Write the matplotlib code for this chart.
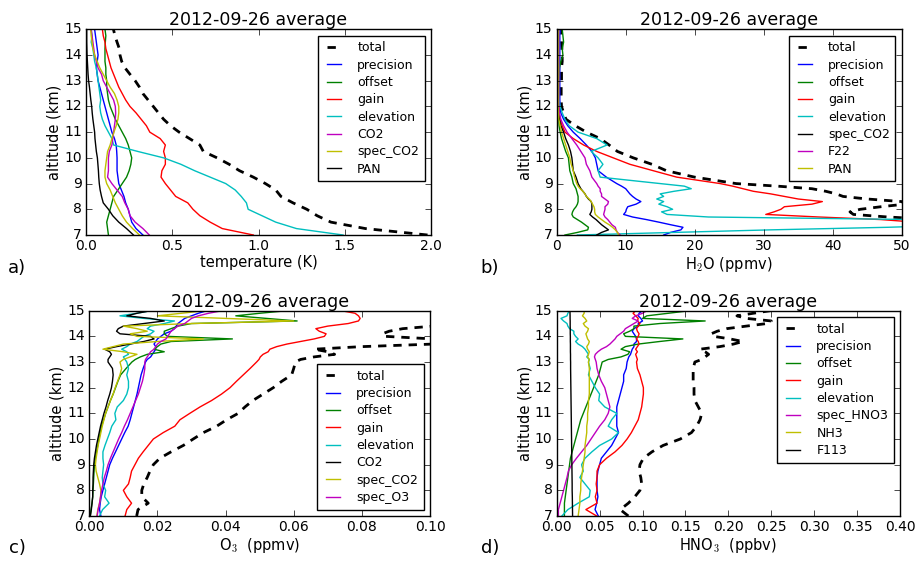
import matplotlib
matplotlib.use("Agg")
import matplotlib.pyplot as plt

plt.style.use("classic")
plt.rcParams["figure.facecolor"] = "white"
plt.rcParams["savefig.facecolor"] = "white"
plt.rcParams["font.family"] = ["DejaVu Sans"]

# ---------------- panel a : temperature (K) ----------------
alt_a = [7.0, 7.25, 7.5, 7.75, 8.0, 8.25, 8.5, 8.75, 9.0, 9.25, 9.5, 9.75, 10.0, 10.25,
         10.5, 10.75, 11.0, 11.25, 11.5, 11.75, 12.0, 12.25, 12.5, 12.75, 13.0, 13.25,
         13.5, 13.75, 14.0, 14.25, 14.5, 14.75, 15.0]
total_a = [1.98, 1.62, 1.42, 1.34, 1.28, 1.20, 1.13, 1.10, 1.04, 0.97, 0.89, 0.83, 0.76, 0.68,
           0.66, 0.60, 0.54, 0.49, 0.45, 0.42, 0.39, 0.36, 0.33, 0.31, 0.285, 0.255, 0.226,
           0.207, 0.197, 0.193, 0.18, 0.168, 0.159]
prec_a = [0.33, 0.29, 0.265, 0.255, 0.245, 0.23, 0.22, 0.205, 0.19, 0.185, 0.18, 0.18, 0.18,
          0.178, 0.175, 0.165, 0.15, 0.14, 0.13, 0.12, 0.11, 0.10, 0.09, 0.08, 0.07, 0.065,
          0.06, 0.065, 0.07, 0.065, 0.06, 0.055, 0.05]
offset_a = [0.13, 0.125, 0.12, 0.13, 0.14, 0.15, 0.16, 0.185, 0.21, 0.235, 0.25, 0.26, 0.265,
            0.255, 0.245, 0.23, 0.21, 0.19, 0.17, 0.155, 0.14, 0.13, 0.125, 0.12, 0.12, 0.115,
            0.115, 0.11, 0.11, 0.11, 0.112, 0.115, 0.11]
gain_a = [0.97, 0.79, 0.72, 0.66, 0.62, 0.59, 0.52, 0.49, 0.46, 0.435, 0.44, 0.46, 0.46, 0.45,
          0.46, 0.43, 0.37, 0.35, 0.32, 0.29, 0.255, 0.23, 0.21, 0.19, 0.175, 0.16, 0.145,
          0.135, 0.125, 0.115, 0.11, 0.10, 0.095]
elev_a = [1.49, 1.22, 1.10, 1.02, 0.94, 0.93, 0.90, 0.865, 0.81, 0.72, 0.63, 0.55, 0.45, 0.30,
          0.16, 0.15, 0.13, 0.11, 0.095, 0.085, 0.08, 0.085, 0.08, 0.075, 0.07, 0.065, 0.06,
          0.05, 0.045, 0.04, 0.03, 0.035, 0.03]
co2_a = [0.367, 0.33, 0.285, 0.255, 0.245, 0.225, 0.21, 0.18, 0.15, 0.125, 0.13, 0.13, 0.13,
         0.135, 0.15, 0.155, 0.16, 0.165, 0.17, 0.172, 0.17, 0.16, 0.14, 0.12, 0.10, 0.09,
         0.07, 0.06, 0.05, 0.045, 0.04, 0.035, 0.03]
specco2_a = [0.31, 0.27, 0.235, 0.21, 0.19, 0.17, 0.155, 0.14, 0.12, 0.11, 0.11, 0.115, 0.12,
             0.125, 0.14, 0.15, 0.162, 0.175, 0.185, 0.19, 0.19, 0.18, 0.165, 0.14, 0.12,
             0.10, 0.08, 0.065, 0.05, 0.04, 0.035, 0.03, 0.027]
pan_a = [0.275, 0.235, 0.19, 0.155, 0.13, 0.10, 0.09, 0.082, 0.077, 0.074, 0.072, 0.069,
         0.066, 0.06, 0.056, 0.052, 0.05, 0.045, 0.04, 0.036, 0.033, 0.028, 0.024, 0.02,
         0.015, 0.012, 0.01, 0.008, 0.006, 0.005, 0.004, 0.004, 0.004]

# ---------------- panel b : H2O (ppmv) ----------------
alt_b = [7.0, 7.1, 7.2, 7.3, 7.4, 7.5, 7.6, 7.7, 7.8, 7.9, 8.0, 8.1, 8.2, 8.3, 8.4, 8.5, 8.6,
         8.7, 8.8, 8.9, 9.0, 9.25, 9.5, 9.75, 10.0, 10.25, 10.5, 10.75, 11.0, 11.25, 11.5,
         11.75, 12.0, 12.25, 12.5, 12.75, 13.0, 13.25, 13.5, 13.75, 14.0, 14.25, 14.5,
         14.75, 15.0]
total_b = [85, 80, 75, 70, 65, 60, 55, 48, 43, 42.5, 44, 47, 50.5, 50, 45, 41.5, 40.5, 39,
           37, 32, 26, 20, 15.9, 13.8, 11.1, 8.8, 7.6, 6.3, 4.3, 2.7, 1.35, 1.0, 0.7, 0.65,
           0.65, 0.65, 0.7, 0.7, 0.7, 0.8, 0.8, 0.75, 0.7, 0.7, 0.7]
prec_b = [15.5, 16.5, 18, 18.3, 16.5, 14.8, 13, 11, 9.7, 10.0, 10.1, 10.3, 11.5, 12.2, 11.5,
          11, 10.6, 10.3, 10, 9.4, 8.7, 7.2, 6.0, 5.8, 5.6, 5.1, 4.3, 3.4, 2.4, 1.6, 1.0,
          0.6, 0.5, 0.45, 0.45, 0.45, 0.45, 0.45, 0.45, 0.45, 0.45, 0.45, 0.45, 0.45, 0.5]
offset_b = [1.2, 3.0, 4.5, 4.6, 4.1, 3.6, 3.0, 2.4, 2.2, 2.3, 2.5, 2.8, 3.0, 3.1, 3.1, 3.1,
            3.0, 2.9, 2.8, 2.6, 2.4, 2.2, 1.9, 1.8, 1.7, 1.3, 1.0, 0.7, 0.5, 0.35, 0.3, 0.3,
            0.25, 0.25, 0.3, 0.3, 0.3, 0.35, 0.4, 0.6, 0.9, 0.8, 1.0, 0.9, 0.8]
gain_b = [72, 68, 64, 60, 56, 52, 47, 38, 30.3, 31.5, 32.5, 33, 37, 38.5, 35, 33, 31, 28.5,
          27, 25.5, 23.7, 17.4, 14.0, 10.6, 8.2, 5.8, 3.9, 2.4, 1.2, 0.8, 0.5, 0.35, 0.3,
          0.25, 0.25, 0.25, 0.25, 0.25, 0.25, 0.25, 0.25, 0.25, 0.25, 0.25, 0.25]
elev_b = [3, 17, 31, 48, 60, 60, 52, 22, 16, 15.2, 16.8, 16, 14.8, 15.5, 14.5, 15.5, 15, 17,
          19.5, 18.5, 15, 6.3, 6.0, 6.7, 6.0, 5.0, 7.3, 5.8, 3.1, 1.8, 1.2, 0.8, 0.5, 0.35,
          0.3, 0.3, 0.3, 0.3, 0.3, 0.3, 0.3, 0.3, 0.3, 0.3, 0.3]
specco2_b = [5.8, 6.5, 7.5, 7.0, 6.5, 6.1, 5.7, 5.2, 4.8, 5.0, 5.1, 5.1, 5.1, 5.0, 4.6, 4.3,
             4.1, 3.8, 3.5, 3.3, 3.1, 2.8, 2.4, 2.3, 2.2, 2.0, 1.7, 1.3, 1.0, 0.6, 0.4, 0.3,
             0.2, 0.2, 0.2, 0.2, 0.2, 0.2, 0.2, 0.2, 0.2, 0.2, 0.2, 0.2, 0.2]
f22_b = [9.2, 8.8, 8.6, 8.5, 8.0, 7.7, 7.4, 7.0, 6.8, 6.9, 7.0, 7.0, 7.4, 7.5, 7.0, 6.5, 6.5,
         6.3, 6.3, 6.0, 5.8, 5.1, 4.8, 4.3, 4.1, 3.5, 2.9, 2.2, 1.5, 1.0, 0.6, 0.4, 0.3, 0.3,
         0.3, 0.3, 0.3, 0.3, 0.3, 0.3, 0.3, 0.3, 0.3, 0.3, 0.3]
pan_b = [9.0, 8.8, 8.5, 8.1, 7.6, 7.0, 6.5, 6.0, 5.6, 5.5, 5.5, 5.4, 5.2, 5.0, 4.7, 4.3, 4.1,
         3.8, 3.4, 3.1, 2.9, 2.6, 2.4, 2.1, 1.9, 1.6, 1.3, 1.0, 0.7, 0.5, 0.3, 0.25, 0.2,
         0.2, 0.2, 0.2, 0.2, 0.2, 0.2, 0.2, 0.2, 0.2, 0.2, 0.2, 0.2]

# ---------------- panels c and d share an altitude grid ----------------
alt_cd = [7.0, 7.25, 7.5, 7.75, 8.0, 8.25, 8.5, 8.75, 9.0, 9.25, 9.5, 9.75, 10.0, 10.25,
          10.5, 10.75, 11.0, 11.25, 11.5, 11.75, 12.0, 12.25, 12.5, 12.75, 13.0, 13.1,
          13.2, 13.3, 13.4, 13.5, 13.6, 13.7, 13.8, 13.9, 14.0, 14.1, 14.2, 14.3, 14.4,
          14.5, 14.6, 14.7, 14.8, 14.9, 15.0]

# panel c : O3 (ppmv)
total_c = [0.0139, 0.0143, 0.0173, 0.0154, 0.0154, 0.0160, 0.0170, 0.0178, 0.0188, 0.0207,
           0.0240, 0.0276, 0.0305, 0.0335, 0.0374, 0.0403, 0.0437, 0.0457, 0.0480, 0.0510,
           0.0540, 0.0565, 0.0594, 0.0600, 0.0605, 0.062, 0.066, 0.072, 0.070, 0.066, 0.080,
           0.101, 0.105, 0.101, 0.087, 0.086, 0.088, 0.092, 0.101, 0.115, 0.125, 0.135,
           0.140, 0.140, 0.140]
prec_c = [0.0034, 0.0030, 0.0032, 0.0035, 0.0040, 0.0045, 0.0050, 0.0055, 0.0060, 0.0068,
          0.0077, 0.0086, 0.0095, 0.0104, 0.0114, 0.0120, 0.0125, 0.0130, 0.0135, 0.0140,
          0.0144, 0.0148, 0.0152, 0.0158, 0.0165, 0.017, 0.018, 0.0185, 0.019, 0.0195,
          0.0195, 0.019, 0.0195, 0.020, 0.021, 0.022, 0.024, 0.025, 0.0255, 0.026, 0.027,
          0.028, 0.030, 0.032, 0.0345]
offset_c = [0.0003, 0.0005, 0.0008, 0.0010, 0.0011, 0.0012, 0.0013, 0.0014, 0.0015, 0.0018,
            0.0021, 0.0025, 0.0028, 0.0032, 0.0036, 0.0042, 0.0048, 0.0055, 0.0062, 0.0070,
            0.0077, 0.0084, 0.0092, 0.0108, 0.0125, 0.0135, 0.015, 0.017, 0.022, 0.019,
            0.020, 0.021, 0.024, 0.042, 0.023, 0.022, 0.022, 0.024, 0.026, 0.030, 0.061,
            0.052, 0.043, 0.050, 0.058]
gain_c = [0.0105, 0.0110, 0.0124, 0.0110, 0.0100, 0.0115, 0.0120, 0.0124, 0.0134, 0.0144,
          0.0158, 0.0173, 0.0188, 0.0217, 0.0251, 0.0266, 0.0295, 0.0325, 0.0359, 0.0388,
          0.0413, 0.0432, 0.0452, 0.0472, 0.0491, 0.0498, 0.0502, 0.051, 0.0525, 0.053,
          0.055, 0.058, 0.062, 0.066, 0.069, 0.0695, 0.0675, 0.0665, 0.070, 0.076, 0.079,
          0.0795, 0.079, 0.078, 0.074]
elev_c = [0.0030, 0.0039, 0.0058, 0.0045, 0.0048, 0.0040, 0.0038, 0.0040, 0.0042, 0.0040,
          0.0040, 0.0046, 0.0053, 0.0060, 0.0066, 0.0078, 0.0075, 0.0082, 0.0100, 0.0110,
          0.0115, 0.0115, 0.0110, 0.0115, 0.011, 0.0105, 0.010, 0.0115, 0.011, 0.0095,
          0.011, 0.012, 0.014, 0.015, 0.016, 0.018, 0.019, 0.017, 0.018, 0.022, 0.025,
          0.016, 0.009, 0.014, 0.018]
co2_c = [0.0003, 0.0006, 0.0008, 0.0010, 0.0010, 0.0011, 0.0011, 0.0012, 0.0013, 0.0015,
         0.0018, 0.0021, 0.0025, 0.0029, 0.0033, 0.0038, 0.0043, 0.0049, 0.0054, 0.0060,
         0.0065, 0.0068, 0.0070, 0.0068, 0.0055, 0.0055, 0.006, 0.0065, 0.006, 0.0045,
         0.008, 0.012, 0.016, 0.019, 0.018, 0.009, 0.008, 0.0085, 0.010, 0.016, 0.022,
         0.018, 0.011, 0.014, 0.018]
specco2_c = [0.0022, 0.0025, 0.0030, 0.0033, 0.0034, 0.0030, 0.0025, 0.0020, 0.0018, 0.0020,
             0.0023, 0.0026, 0.0030, 0.0034, 0.0038, 0.0043, 0.0048, 0.0055, 0.0062, 0.0070,
             0.0076, 0.0083, 0.0090, 0.0095, 0.009, 0.010, 0.012, 0.014, 0.010, 0.004,
             0.007, 0.010, 0.020, 0.0335, 0.014, 0.012, 0.017, 0.014, 0.010, 0.030, 0.060,
             0.040, 0.020, 0.027, 0.034]
speco3_c = [0.0023, 0.0026, 0.0030, 0.0033, 0.0036, 0.0040, 0.0044, 0.0050, 0.0055, 0.0062,
            0.0070, 0.0078, 0.0086, 0.0095, 0.0103, 0.0112, 0.0120, 0.0128, 0.0136, 0.0144,
            0.0150, 0.0156, 0.0160, 0.0163, 0.0163, 0.0165, 0.017, 0.0175, 0.018, 0.019,
            0.0195, 0.020, 0.021, 0.0225, 0.023, 0.0235, 0.024, 0.025, 0.026, 0.028, 0.029,
            0.030, 0.032, 0.035, 0.039]

# panel d : HNO3 (ppbv)
total_d = [0.0835, 0.074, 0.0835, 0.091, 0.097, 0.099, 0.098, 0.096, 0.097, 0.101, 0.111,
           0.124, 0.144, 0.157, 0.163, 0.167, 0.169, 0.165, 0.161, 0.160, 0.160, 0.159,
           0.159, 0.159, 0.161, 0.169, 0.173, 0.177, 0.173, 0.167, 0.19, 0.206, 0.217,
           0.202, 0.183, 0.18, 0.187, 0.198, 0.221, 0.245, 0.25, 0.221, 0.21, 0.229, 0.249]
prec_d = [0.0485, 0.0447, 0.0466, 0.048, 0.047, 0.047, 0.047, 0.048, 0.050, 0.052, 0.058,
          0.064, 0.068, 0.072, 0.070, 0.070, 0.070, 0.070, 0.072, 0.074, 0.076, 0.078, 0.078,
          0.081, 0.082, 0.083, 0.084, 0.086, 0.087, 0.088, 0.09, 0.09, 0.093, 0.093, 0.092,
          0.09, 0.088, 0.09, 0.095, 0.095, 0.10, 0.098, 0.095, 0.096, 0.10]
offset_d = [0.009, 0.009, 0.009, 0.010, 0.011, 0.012, 0.013, 0.014, 0.015, 0.016, 0.018,
            0.020, 0.022, 0.024, 0.026, 0.028, 0.031, 0.034, 0.037, 0.040, 0.043, 0.046,
            0.049, 0.051, 0.053, 0.06, 0.075, 0.083, 0.085, 0.075, 0.08, 0.095, 0.12, 0.147,
            0.08, 0.078, 0.085, 0.09, 0.09, 0.12, 0.173, 0.10, 0.105, 0.13, 0.155]
gain_d = [0.0466, 0.034, 0.047, 0.045, 0.047, 0.046, 0.047, 0.047, 0.050, 0.058, 0.068,
          0.076, 0.082, 0.087, 0.091, 0.095, 0.097, 0.099, 0.100, 0.101, 0.101, 0.099,
          0.097, 0.094, 0.093, 0.094, 0.093, 0.092, 0.094, 0.092, 0.094, 0.096, 0.095,
          0.093, 0.095, 0.096, 0.094, 0.093, 0.095, 0.097, 0.094, 0.095, 0.092, 0.089, 0.092]
elev_d = [0.006, 0.013, 0.025, 0.038, 0.039, 0.033, 0.027, 0.031, 0.029, 0.033, 0.041, 0.05,
          0.064, 0.072, 0.06, 0.064, 0.07, 0.056, 0.049, 0.05, 0.045, 0.041, 0.037, 0.039,
          0.037, 0.038, 0.035, 0.037, 0.035, 0.033, 0.03, 0.025, 0.022, 0.025, 0.022, 0.02,
          0.02, 0.015, 0.013, 0.012, 0.008, 0.005, 0.012, 0.013, 0.015]
spechno3_d = [0.002, 0.002, 0.004, 0.006, 0.008, 0.010, 0.012, 0.0136, 0.0175, 0.023, 0.029,
              0.035, 0.040, 0.045, 0.050, 0.056, 0.060, 0.062, 0.060, 0.058, 0.056, 0.052,
              0.049, 0.047, 0.046, 0.045, 0.044, 0.045, 0.048, 0.052, 0.058, 0.062, 0.065,
              0.068, 0.07, 0.074, 0.078, 0.08, 0.085, 0.09, 0.095, 0.088, 0.092, 0.10, 0.105]
nh3_d = [0.025, 0.026, 0.027, 0.027, 0.028, 0.028, 0.029, 0.030, 0.031, 0.032, 0.033, 0.033,
         0.034, 0.035, 0.035, 0.036, 0.036, 0.037, 0.037, 0.038, 0.038, 0.038, 0.038, 0.038,
         0.037, 0.038, 0.036, 0.037, 0.038, 0.036, 0.035, 0.037, 0.038, 0.036, 0.035, 0.034,
         0.036, 0.037, 0.033, 0.031, 0.035, 0.033, 0.030, 0.032, 0.032]
f113_d = [0.0185, 0.0184, 0.0183, 0.0182, 0.018, 0.018, 0.0179, 0.0178, 0.0177, 0.0176,
          0.0175, 0.0174, 0.0173, 0.0172, 0.0171, 0.017, 0.0169, 0.0168, 0.0167, 0.0166,
          0.0165, 0.0164, 0.0163, 0.0162, 0.0162, 0.0161, 0.0161, 0.0161, 0.016, 0.016,
          0.016, 0.016, 0.0159, 0.0159, 0.0159, 0.0158, 0.0158, 0.0158, 0.0157, 0.0157,
          0.0157, 0.0156, 0.0156, 0.0155, 0.0155]

title = "2012-09-26 average"

panels = [
    dict(rect=[86/916, 1-235/562, 345/916, 205.7/562], alt=alt_a,
         series=[("precision", prec_a, "b"), ("offset", offset_a, "g"), ("gain", gain_a, "r"),
                 ("elevation", elev_a, "c"), ("CO2", co2_a, "m"), ("spec_CO2", specco2_a, "y"),
                 ("PAN", pan_a, "k")],
         total=total_a, xlim=(0, 2.0), xticks=[0.0, 0.5, 1.0, 1.5, 2.0],
         xticklabels=["0.0", "0.5", "1.0", "1.5", "2.0"],
         xlabel="temperature (K)", loc="upper right"),
    dict(rect=[556.7/916, 1-235/562, 345/916, 205.7/562], alt=alt_b,
         series=[("precision", prec_b, "b"), ("offset", offset_b, "g"), ("gain", gain_b, "r"),
                 ("elevation", elev_b, "c"), ("spec_CO2", specco2_b, "k"), ("F22", f22_b, "m"),
                 ("PAN", pan_b, "y")],
         total=total_b, xlim=(0, 50), xticks=[0, 10, 20, 30, 40, 50],
         xticklabels=["0", "10", "20", "30", "40", "50"],
         xlabel="H$_2$O (ppmv)", loc="upper right"),
    dict(rect=[89.3/916, 1-516/562, 340.7/916, 205.3/562], alt=alt_cd,
         series=[("precision", prec_c, "b"), ("offset", offset_c, "g"), ("gain", gain_c, "r"),
                 ("elevation", elev_c, "c"), ("CO2", co2_c, "k"), ("spec_CO2", specco2_c, "y"),
                 ("spec_O3", speco3_c, "m")],
         total=total_c, xlim=(0, 0.10), xticks=[0.0, 0.02, 0.04, 0.06, 0.08, 0.10],
         xticklabels=["0.00", "0.02", "0.04", "0.06", "0.08", "0.10"],
         xlabel="O$_3$  (ppmv)", loc="lower right"),
    dict(rect=[556.7/916, 1-516/562, 343.3/916, 205.3/562], alt=alt_cd,
         series=[("precision", prec_d, "b"), ("offset", offset_d, "g"), ("gain", gain_d, "r"),
                 ("elevation", elev_d, "c"), ("spec_HNO3", spechno3_d, "m"), ("NH3", nh3_d, "y"),
                 ("F113", f113_d, "k")],
         total=total_d, xlim=(0, 0.40),
         xticks=[0.0, 0.05, 0.10, 0.15, 0.20, 0.25, 0.30, 0.35, 0.40],
         xticklabels=["0.00", "0.05", "0.10", "0.15", "0.20", "0.25", "0.30", "0.35", "0.40"],
         xlabel="HNO$_3$  (ppbv)", loc="upper right"),
]

fig = plt.figure(figsize=(9.16, 5.62), dpi=100)
for p in panels:
    ax = fig.add_axes(p["rect"])
    ax.plot(p["total"], p["alt"], color="k", lw=2, ls="--", dashes=(6, 5), label="total")
    for name, vals, col in p["series"]:
        ax.plot(vals, p["alt"], color=col, lw=1.0, label=name)
    ax.set_xlim(*p["xlim"])
    ax.set_ylim(7, 15)
    ax.set_xticks(p["xticks"])
    ax.set_xticklabels(p["xticklabels"], fontsize=10)
    ax.set_yticks(range(7, 16))
    ax.set_yticklabels([str(v) for v in range(7, 16)], fontsize=10)
    ax.tick_params(direction="in", top=True, right=True, length=4, pad=3)
    ax.set_xlabel(p["xlabel"], fontsize=10.5, labelpad=1)
    ax.set_ylabel("altitude (km)", fontsize=10.5, labelpad=2)
    ax.set_title(title, fontsize=12.5, pad=3)
    ax.legend(loc=p["loc"], fontsize=9, handlelength=1.7, labelspacing=0.35,
              borderpad=0.45, handletextpad=1.0, numpoints=2, frameon=True,
              fancybox=False, borderaxespad=0.5)

for lab, x, y in [("a)", 17, 268), ("b)", 490, 268), ("c)", 17, 548), ("d)", 490, 548)]:
    fig.text(x/916, 1 - y/562, lab, fontsize=13, ha="center", va="center")

fig.savefig("out.png", dpi=100)
